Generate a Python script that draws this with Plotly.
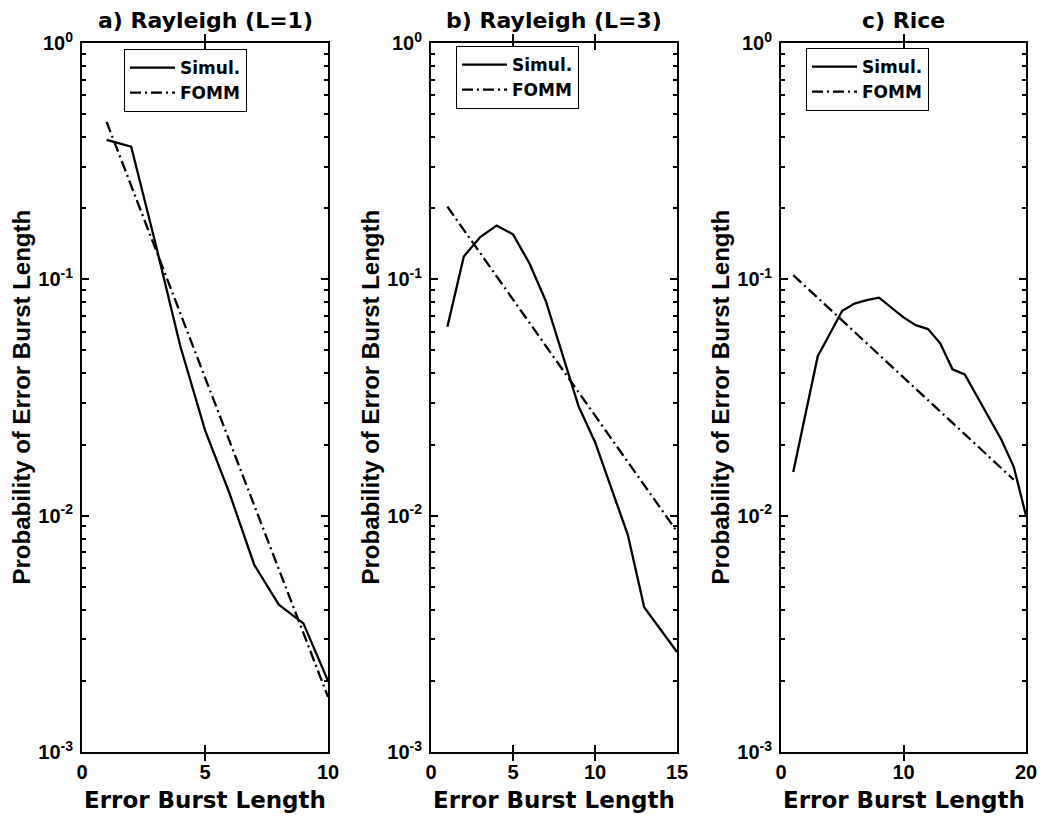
import plotly.graph_objects as go

# ---------------- data ----------------
x_a = [1, 2, 3, 4, 5, 6, 7, 8, 9, 10]
simul_a = [0.389, 0.364, 0.14, 0.052, 0.023, 0.0124, 0.0062, 0.0042, 0.0035, 0.0020]
fomm_a = [0.464, 0.249, 0.134, 0.0718, 0.0385, 0.0207, 0.0111, 0.00595, 0.00319, 0.00171]

x_b = [1, 2, 3, 4, 5, 6, 7, 8, 9, 10, 11, 12, 13, 14, 15]
simul_b = [0.063, 0.125, 0.151, 0.169, 0.155, 0.117, 0.081, 0.048, 0.029, 0.0205,
           0.013, 0.0083, 0.0041, 0.0033, 0.00265]
fomm_b = [0.203, 0.162, 0.129, 0.103, 0.0822, 0.0655, 0.0523, 0.0417, 0.0333, 0.0265,
          0.0212, 0.0169, 0.0135, 0.0107, 0.00857]

x_c_sim = [1, 2, 3, 4, 5, 6, 7, 8, 9, 10, 11, 12, 13, 14, 15, 16, 17, 18, 19, 20]
simul_c = [0.0153, 0.027, 0.0473, 0.059, 0.0736, 0.079, 0.0817, 0.0836, 0.076, 0.069,
           0.064, 0.0616, 0.0536, 0.0416, 0.0396, 0.032, 0.0262, 0.0209, 0.0161, 0.0100]
x_c_fomm = [1, 2, 3, 4, 5, 6, 7, 8, 9, 10, 11, 12, 13, 14, 15, 16, 17, 18, 19]
fomm_c = [0.1042, 0.0933, 0.0835, 0.0748, 0.0669, 0.0599, 0.0536, 0.0480, 0.0430, 0.0385,
          0.0344, 0.0308, 0.0276, 0.0247, 0.0221, 0.0198, 0.0177, 0.0159, 0.0142]

titles = ["a) Rayleigh (L=1)", "b) Rayleigh (L=3)", "c) Rice"]
x_label = "Error Burst Length"
y_label = "Probability of Error Burst Length"
series_names = ["Simul.", "FOMM"]

y_tickvals = [0.001, 0.01, 0.1, 1]
y_ticktext = ["10<sup>-3</sup>", "10<sup>-2</sup>", "10<sup>-1</sup>", "10<sup>0</sup>"]
y_minor_tickvals = [0.002, 0.003, 0.004, 0.005, 0.006, 0.007, 0.008, 0.009,
                    0.02, 0.03, 0.04, 0.05, 0.06, 0.07, 0.08, 0.09,
                    0.2, 0.3, 0.4, 0.5, 0.6, 0.7, 0.8, 0.9]
x_ranges = [[0, 10], [0, 15], [0, 20]]
x_tickvals = [[0, 5, 10], [0, 5, 10, 15], [0, 10, 20]]

# ---------------- layout geometry (pixels) ----------------
W, H = 1043, 816
panel_px = [(82, 328), (431, 677), (781, 1026)]
top_px, bot_px = 43, 752
legend_px = [(124, 49), (456, 46), (806, 48)]

LABEL_FONT = "DejaVu Sans"
TICK_FONT = "Liberation Sans"
DASHDOT = "11px,4px,2px,4px"
LW = 2.3

fig = go.Figure()

panels = [
    (x_a, simul_a, x_a, fomm_a),
    (x_b, simul_b, x_b, fomm_b),
    (x_c_sim, simul_c, x_c_fomm, fomm_c),
]

for i, (xs, ys, xf, yf) in enumerate(panels):
    k = "" if i == 0 else str(i + 1)
    leg = "legend" + k
    fig.add_trace(go.Scatter(x=xs, y=ys, mode="lines", name=series_names[0],
                             line=dict(color="black", width=LW),
                             xaxis="x" + k, yaxis="y" + k, legend=leg))
    # FOMM is drawn on the twin log axis (same range) that carries the minor ticks
    fig.add_trace(go.Scatter(x=xf, y=yf, mode="lines", name=series_names[1],
                             line=dict(color="black", width=LW, dash=DASHDOT),
                             xaxis="x" + k, yaxis="y" + str(i + 4), legend=leg))

layout = dict(
    width=W, height=H,
    margin=dict(l=0, r=0, t=0, b=0, pad=0, autoexpand=False),
    paper_bgcolor="white", plot_bgcolor="white",
    showlegend=True,
    annotations=[],
)

for i in range(3):
    k = "" if i == 0 else str(i + 1)
    x0, x1 = panel_px[i]
    dom_x = [x0 / W, x1 / W]
    dom_y = [1 - bot_px / H, 1 - top_px / H]
    layout["xaxis" + k] = dict(
        domain=dom_x, range=x_ranges[i], anchor="y" + k,
        tickmode="array", tickvals=x_tickvals[i],
        ticks="inside", ticklen=7, tickwidth=2, tickcolor="black",
        showline=True, linecolor="black", linewidth=2, mirror="allticks",
        showgrid=False, zeroline=False,
        tickfont=dict(family=TICK_FONT, size=20, color="black", weight="bold"),
        ticklabelstandoff=1,
    )
    layout["yaxis" + k] = dict(
        domain=dom_y, type="log", range=[-3, 0], anchor="x" + k,
        tickmode="array", tickvals=y_tickvals, ticktext=y_ticktext,
        ticks="inside", ticklen=7, tickwidth=2, tickcolor="black",
        showline=True, linecolor="black", linewidth=2, mirror="allticks",
        showgrid=False, zeroline=False,
        tickfont=dict(family=TICK_FONT, size=20, color="black", weight="bold"),
        ticklabelstandoff=3,
    )
    # twin axis carrying the minor (2..9) log ticks
    layout["yaxis" + str(i + 4)] = dict(
        overlaying="y" + k, anchor="x" + k, side="left",
        type="log", range=[-3, 0],
        tickmode="array", tickvals=y_minor_tickvals, showticklabels=False,
        ticks="inside", ticklen=4, tickwidth=1.5, tickcolor="black",
        showline=True, linecolor="black", linewidth=2, mirror="allticks",
        showgrid=False, zeroline=False,
    )
    lx, ly = legend_px[i]
    layout["legend" + k] = dict(
        x=lx / W, y=1 - ly / H, xanchor="left", yanchor="top",
        xref="paper", yref="paper",
        bgcolor="white", bordercolor="black", borderwidth=1,
        font=dict(family=LABEL_FONT, size=17, color="black", weight="bold"),
        tracegroupgap=0, itemwidth=45,
    )
    cx = (x0 + x1) / 2 / W
    layout["annotations"].append(dict(
        text=titles[i], x=cx, y=1 - 20 / H, xref="paper", yref="paper",
        xanchor="center", yanchor="middle", showarrow=False,
        font=dict(family=LABEL_FONT, size=22, color="black", weight="bold")))
    layout["annotations"].append(dict(
        text=x_label, x=cx, y=1 - 800 / H, xref="paper", yref="paper",
        xanchor="center", yanchor="middle", showarrow=False,
        font=dict(family=LABEL_FONT, size=23, color="black", weight="bold")))
    layout["annotations"].append(dict(
        text=y_label, x=(x0 - 61) / W, y=1 - (top_px + bot_px) / 2 / H,
        xref="paper", yref="paper", textangle=-90,
        xanchor="center", yanchor="middle", showarrow=False,
        font=dict(family=TICK_FONT, size=24, color="black", weight="bold")))

fig.update_layout(**layout)
fig.write_html("out.html")
